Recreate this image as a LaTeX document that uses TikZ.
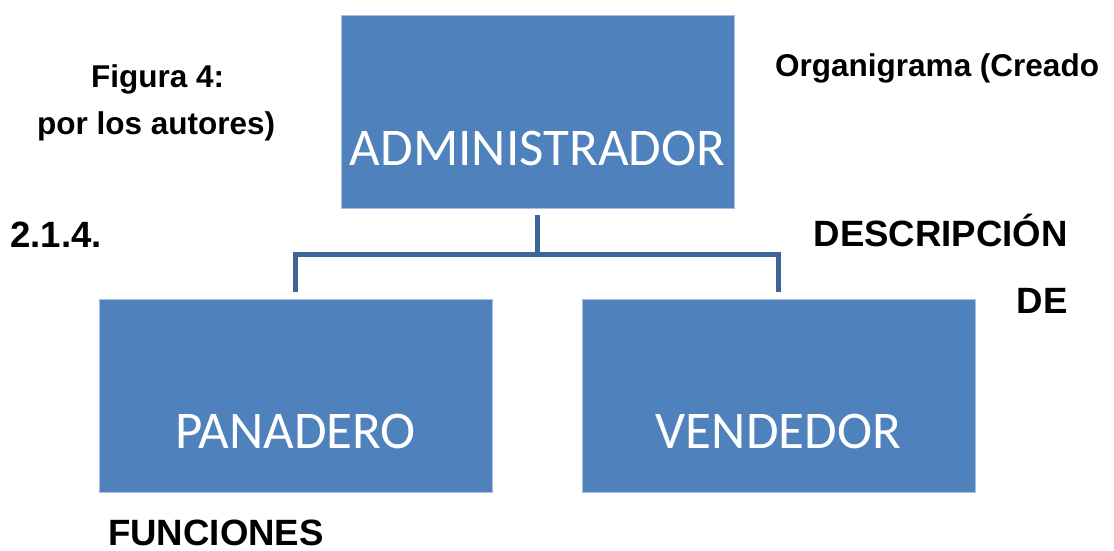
\documentclass[tikz,border=0pt]{standalone}
\usepackage{fontspec}
\setmainfont{Liberation Sans}
\newfontfamily\boxfont{Carlito}
\definecolor{boxblue}{HTML}{4F81BD}
\definecolor{boxedge}{HTML}{A9C0DD}
\definecolor{linkblue}{HTML}{3E6597}
\begin{document}
\begin{tikzpicture}[x=1pt,y=-1pt,
  orgbox/.style={draw=boxedge, line width=1pt, fill=boxblue, text=white,
    minimum width=393pt, minimum height=193pt, inner sep=0pt,
    text height=118pt, text depth=12pt,
    font=\boxfont\fontsize{53}{60}\selectfont},
  conn/.style={draw=linkblue, line width=5pt, line cap=butt, line join=miter},
  small/.style={inner sep=0pt, font=\bfseries\fontsize{31.5}{36}\selectfont},
  big/.style={inner sep=0pt, font=\bfseries\fontsize{36.6}{42}\selectfont}]
\useasboundingbox (0,0) rectangle (1114,551);
\node[orgbox] (adm) at (537.5,112) {ADMINISTRADOR};
\node[orgbox] (pan) at (295.5,395.5) {PANADERO};
\node[orgbox] (ven) at (778.5,395.5) {VENDEDOR};
\coordinate (mid) at ([yshift=-45pt]adm.south);
\draw[conn] ([yshift=-6pt]adm.south) -- (mid);
\draw[conn] ([yshift=7pt]pan.north) |- (mid) -| ([yshift=7pt]ven.north);
\node[small, anchor=base west] (fig) at (91,88) {Figura 4:};
\node[small, anchor=base west] (por) at (37,134) {por los autores)};
\node[small, anchor=base west] (org) at (775,77) {Organigrama (Creado};
\node[big, anchor=base west] (num) at (10,247) {2.1.4.};
\node[big, anchor=base east] (desc) at (1068,246) {DESCRIPCIÓN};
\node[big, anchor=base east] (de) at (1068,313) {DE};
\node[big, anchor=base west] (fun) at (108,545) {FUNCIONES};
\end{tikzpicture}
\end{document}
